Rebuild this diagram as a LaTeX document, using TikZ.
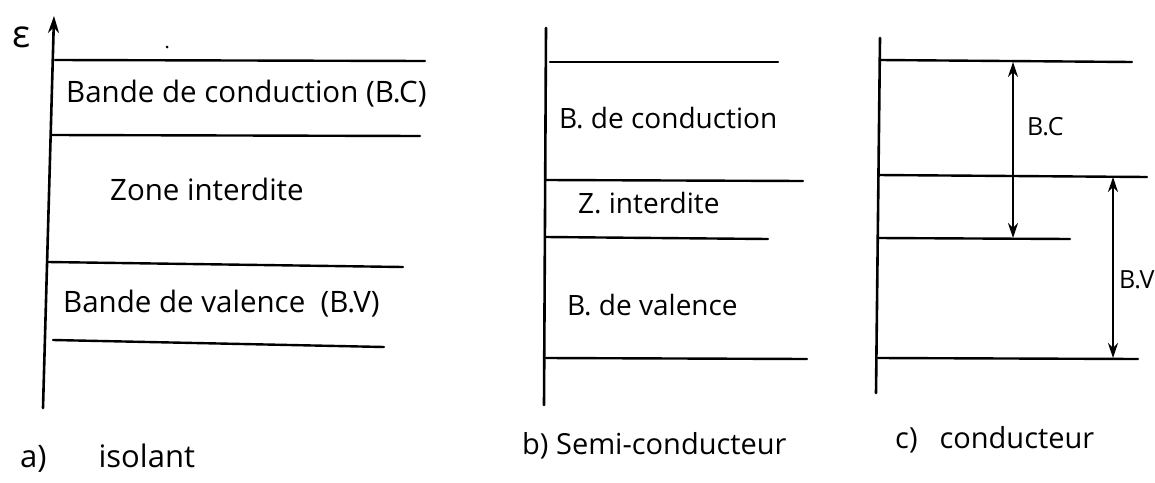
\documentclass[tikz,border=0pt]{standalone}
\usepackage{fontspec}
\setmainfont{Open Sans}
\usetikzlibrary{arrows.meta}
\begin{document}
\begin{tikzpicture}[x=1pt,y=-1pt,
  band/.style={line width=2.4pt,line cap=round},
  axisline/.style={line width=2.6pt,line cap=round},
  lbl/.style={inner sep=0pt,anchor=west,font=\fontsize{29.5}{33}\selectfont},
  slbl/.style={inner sep=0pt,anchor=west,font=\fontsize{28}{31}\selectfont},
  dlbl/.style={inner sep=0pt,anchor=west,font=\fontsize{25}{28}\selectfont},
  captxt/.style={inner sep=0pt,anchor=west,font=\fontsize{29}{32}\selectfont},
  dimarrow/.style={line width=2.2pt,{Stealth[length=15pt,width=10pt]}-{Stealth[length=15pt,width=10pt]}}
]
\useasboundingbox (0,0) rectangle (1155,482);
% ---------- a) isolant ----------
\coordinate (aB) at (43,408);
\coordinate (aT) at (54,16);
\draw[axisline,-{Stealth[length=17pt,width=11pt]}] (aB) -- (aT);
\node[inner sep=0pt,font=\fontsize{38}{40}\selectfont] (E) at (22,37) {ε};
\fill (167,47) circle (1.5pt);
\coordinate (a1l) at (55,60);  \coordinate (a1r) at (425,61);
\coordinate (a2l) at (52,135); \coordinate (a2r) at (420,136);
\coordinate (a3l) at (48,262); \coordinate (a3r) at (403,267);
\coordinate (a4l) at (53,340); \coordinate (a4r) at (384,347);
\draw[band] (a1l) -- (a1r);
\draw[band] (a2l) -- (a2r);
\draw[band] (a3l) -- (a3r);
\draw[band] (a4l) -- (a4r);
\node[lbl] (aBC) at (66,94) {Bande de conduction (B.C)};
\node[lbl] (aZI) at (110,189) {Zone interdite};
\node[lbl] (aBV) at (63,304) {Bande de valence \ (B.V)};
\node[captxt,font=\fontsize{31}{34}\selectfont] (acap) at (20,458) {a)\hspace{52pt}isolant};
% ---------- b) semi-conducteur ----------
\coordinate (bB) at (544,405);
\coordinate (bT) at (546,28);
\draw[axisline] (bB) -- (bT);
\coordinate (b1l) at (550,62);  \coordinate (b1r) at (778,62);
\coordinate (b2l) at (546,180); \coordinate (b2r) at (803,181);
\coordinate (b3l) at (546,237); \coordinate (b3r) at (768,239);
\coordinate (b4l) at (546,358); \coordinate (b4r) at (807,359);
\draw[band] (b1l) -- (b1r);
\draw[band] (b2l) -- (b2r);
\draw[band] (b3l) -- (b3r);
\draw[band] (b4l) -- (b4r);
\node[slbl] (bBC) at (559,118) {B. de conduction};
\node[slbl] (bZI) at (578,203) {Z. interdite};
\node[slbl] (bBV) at (567,305) {B. de valence};
\node[captxt] (bcap) at (522,446) {b) Semi-conducteur};
% ---------- c) conducteur ----------
\coordinate (cB) at (876,393);
\coordinate (cT) at (880,38);
\draw[axisline] (cB) -- (cT);
\coordinate (c1l) at (880,60);  \coordinate (c1r) at (1132,62);
\coordinate (c2l) at (878,175); \coordinate (c2r) at (1147,177);
\coordinate (c3l) at (878,238); \coordinate (c3r) at (1070,239);
\coordinate (c4l) at (878,358); \coordinate (c4r) at (1138,359);
\draw[band] (c1l) -- (c1r);
\draw[band] (c2l) -- (c2r);
\draw[band] (c3l) -- (c3r);
\draw[band] (c4l) -- (c4r);
\coordinate (bcT) at (1013,62);  \coordinate (bcB) at (1013,238);
\coordinate (bvT) at (1113,177); \coordinate (bvB) at (1113,358);
\draw[dimarrow] (bcT) -- (bcB);
\draw[dimarrow] (bvT) -- (bvB);
\node[dlbl] (cBC) at (1027,127) {B.C};
\node[dlbl] (cBV) at (1119,280) {B.V};
\node[captxt] (ccap) at (895,440) {c)\hspace{22pt}conducteur};
\end{tikzpicture}
\end{document}
